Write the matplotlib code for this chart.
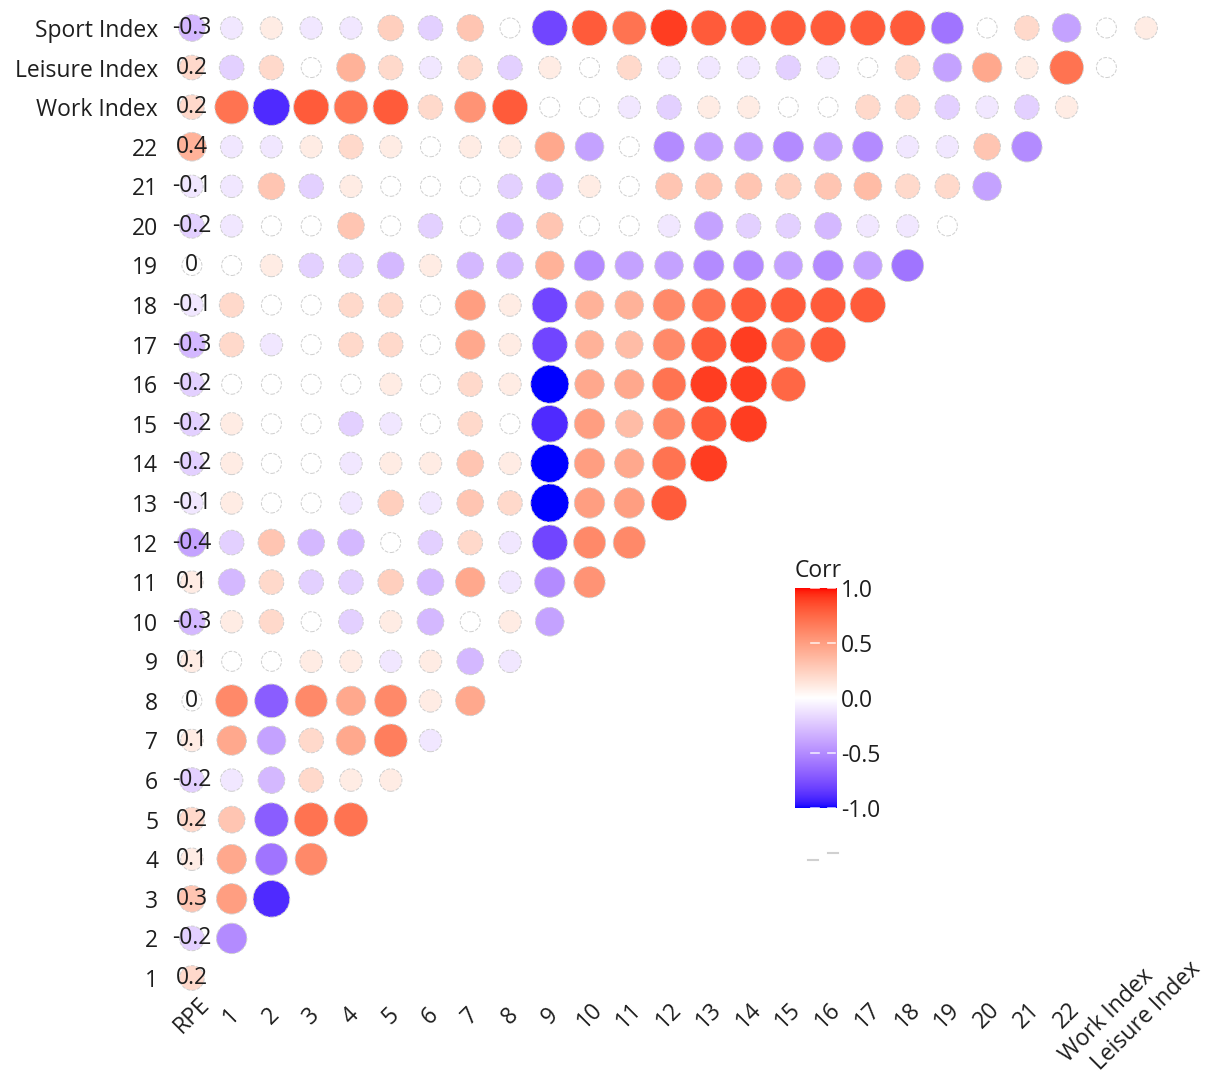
import numpy as np
import matplotlib
matplotlib.use("Agg")
import matplotlib.pyplot as plt
from matplotlib.colors import ListedColormap, Normalize
from matplotlib.cm import ScalarMappable
from matplotlib.lines import Line2D

plt.rcParams['font.family'] = ['Open Sans', 'DejaVu Sans']
FS = 16.5
INK = '#1e1e1e'

items = [str(i) for i in range(1, 23)]
row_vars = items + ['Work Index', 'Leisure Index', 'Sport Index']
col_vars = ['RPE'] + items + ['Work Index', 'Leisure Index']

# correlation of each row variable with RPE (printed in the first column)
rpe_corr = [0.2, -0.2, 0.3, 0.1, 0.2, -0.2, 0.1, 0, 0.1, -0.3, 0.1, -0.4, -0.1,
            -0.2, -0.2, -0.2, -0.3, -0.1, 0, -0.2, -0.1, 0.4, 0.2, 0.2, -0.3]

# lower triangle: row k holds its correlations with items 1..k
item_corr = [
    [],
    [-0.5],
    [0.5, -0.9],
    [0.45, -0.6, 0.6],
    [0.3, -0.7, 0.7, 0.7],
    [-0.1, -0.3, 0.2, 0.1, 0.1],
    [0.45, -0.4, 0.2, 0.45, 0.65, -0.1],
    [0.6, -0.7, 0.6, 0.45, 0.6, 0.1, 0.45],
    [0, 0, 0.1, 0.1, -0.1, 0.1, -0.3, -0.1],
    [0.1, 0.2, 0, -0.2, 0.1, -0.3, 0, 0.1, -0.4],
    [-0.3, 0.2, -0.2, -0.2, 0.25, -0.3, 0.45, -0.1, -0.5, 0.55],
    [-0.2, 0.3, -0.3, -0.3, 0, -0.2, 0.2, -0.1, -0.8, 0.6, 0.6],
    [0.1, 0, 0, -0.1, 0.25, -0.1, 0.3, 0.2, -1.0, 0.5, 0.5, 0.8],
    [0.1, 0, 0, -0.1, 0.1, 0.1, 0.3, 0.1, -1.0, 0.5, 0.45, 0.7, 0.9],
    [0.1, 0, 0, -0.2, -0.1, 0, 0.2, 0, -0.9, 0.5, 0.35, 0.6, 0.8, 0.9],
    [0, 0, 0, 0, 0.1, 0, 0.2, 0.1, -1.0, 0.45, 0.45, 0.7, 0.9, 0.9, 0.75],
    [0.2, -0.1, 0, 0.2, 0.2, 0, 0.45, 0.1, -0.8, 0.4, 0.35, 0.6, 0.8, 0.9, 0.7, 0.8],
    [0.2, 0, 0, 0.2, 0.2, 0, 0.5, 0.1, -0.8, 0.4, 0.4, 0.6, 0.7, 0.8, 0.8, 0.8, 0.8],
    [0, 0.1, -0.2, -0.2, -0.3, 0.1, -0.3, -0.3, 0.4, -0.5, -0.4, -0.4, -0.5, -0.5,
     -0.4, -0.5, -0.4, -0.6],
    [-0.1, 0, 0, 0.3, 0, -0.2, 0, -0.3, 0.3, 0, 0, -0.1, -0.4, -0.2, -0.2, -0.3,
     -0.1, -0.1, 0],
    [-0.1, 0.3, -0.2, 0.1, 0, 0, 0, -0.2, -0.3, 0.1, 0, 0.3, 0.3, 0.3, 0.25, 0.3,
     0.35, 0.2, 0.2, -0.4],
    [-0.1, -0.1, 0.1, 0.2, 0.1, 0, 0.1, 0.1, 0.45, -0.4, 0, -0.5, -0.4, -0.4, -0.5,
     -0.4, -0.5, -0.1, -0.1, 0.3, -0.5],
    [0.7, -0.9, 0.8, 0.7, 0.8, 0.2, 0.55, 0.8, 0, 0, -0.1, -0.2, 0.1, 0.1, 0, 0,
     0.2, 0.2, -0.2, -0.1, -0.2, 0.1],
    [-0.2, 0.2, 0, 0.4, 0.2, -0.1, 0.2, -0.2, 0.1, 0, 0.2, -0.1, -0.1, -0.1, -0.2,
     -0.1, 0, 0.2, -0.4, 0.45, 0.1, 0.7, 0],
    [-0.1, 0.1, -0.1, -0.1, 0.25, -0.2, 0.3, 0, -0.8, 0.8, 0.7, 0.9, 0.8, 0.8, 0.8,
     0.8, 0.8, 0.8, -0.6, 0, 0.2, -0.4, 0, 0.1],
]

# blue-white-red ramp interpolated in CIE Lab
M = np.array([[0.4124, 0.3576, 0.1805],
              [0.2126, 0.7152, 0.0722],
              [0.0193, 0.1192, 0.9505]])
WHITE = M.sum(axis=1)


def to_lab(rgb):
    c = np.asarray(rgb, float)
    lin = np.where(c <= 0.04045, c / 12.92, ((c + 0.055) / 1.055) ** 2.4)
    xyz = lin @ M.T / WHITE
    f = np.where(xyz > (6 / 29) ** 3, np.cbrt(xyz), xyz / (3 * (6 / 29) ** 2) + 4 / 29)
    return np.stack([116 * f[..., 1] - 16,
                     500 * (f[..., 0] - f[..., 1]),
                     200 * (f[..., 1] - f[..., 2])], -1)


def from_lab(lab):
    fy = (lab[..., 0] + 16) / 116
    f = np.stack([fy + lab[..., 1] / 500, fy, fy - lab[..., 2] / 200], -1)
    xyz = np.where(f > 6 / 29, f ** 3, 3 * (6 / 29) ** 2 * (f - 4 / 29)) * WHITE
    lin = np.clip(xyz @ np.linalg.inv(M).T, 0, 1)
    c = np.where(lin <= 0.0031308, 12.92 * lin, 1.055 * lin ** (1 / 2.4) - 0.055)
    return np.clip(c, 0, 1)


lab_blue, lab_white, lab_red = to_lab([0, 0, 1]), to_lab([1, 1, 1]), to_lab([1, 0, 0])
t = np.linspace(-1, 1, 511)[:, None]
lab = np.where(t < 0, lab_white + (-t) * (lab_blue - lab_white),
               lab_white + t * (lab_red - lab_white))
cmap = ListedColormap(from_lab(lab))
norm = Normalize(-1, 1)

xs, ys, vals = [], [], []
for i in range(len(row_vars)):
    row = [rpe_corr[i]] + item_corr[i]
    for j, v in enumerate(row):
        xs.append(j)
        ys.append(i)
        vals.append(v)
vals = np.array(vals)
diam_px = np.sqrt(400 + 1044 * np.abs(vals))
sizes = (diam_px * 0.72) ** 2

fig = plt.figure(figsize=(12.14, 10.76), dpi=100)
ax = fig.add_axes([0.1417, 0.0727, 0.8188, 0.9197])
ax.scatter(xs, ys, c=vals, cmap=cmap, norm=norm, s=sizes,
           edgecolors='#cfcfcf', linewidths=0.7, linestyles='--', zorder=2)

for i, v in enumerate(rpe_corr):
    ax.text(0, i, f"{v:g}", ha='center', va='center', fontsize=FS,
            color=INK, zorder=3)

ax.set_xlim(-0.5, 24.5)
ax.set_ylim(-0.5, 24.5)
ax.set_xticks(range(len(col_vars)))
ax.set_xticklabels(col_vars, fontsize=FS, color=INK)
ax.set_yticks(range(len(row_vars)))
ax.set_yticklabels(row_vars, fontsize=FS, color=INK)
for lbl in ax.get_xticklabels():
    lbl.set_rotation(45)
    lbl.set_ha('center')
    lbl.set_va('center')
    lbl.set_rotation_mode('anchor')
ax.tick_params(axis='both', length=0)
ax.tick_params(axis='x', pad=13)
ax.tick_params(axis='y', pad=10)
for sp in ax.spines.values():
    sp.set_visible(False)

# colour legend
cax = fig.add_axes([0.6549, 0.2491, 0.0346, 0.2045])
cbar = fig.colorbar(ScalarMappable(norm=norm, cmap=cmap), cax=cax,
                    ticks=[-1, -0.5, 0, 0.5, 1])
cbar.ax.set_yticklabels(['-1.0', '-0.5', '0.0', '0.5', '1.0'], fontsize=FS,
                        color=INK)
cbar.outline.set_visible(False)
cbar.ax.tick_params(length=0, pad=3)
for y in [-1, -0.5, 0, 0.5, 1]:
    cax.plot([0.37, 0.56], [y, y], color='white', lw=1.2, alpha=0.8)
    cax.plot([0.78, 0.96], [y, y], color='white', lw=1.2, alpha=0.8)
cax.set_title('Corr', loc='left', fontsize=FS, color=INK, pad=8)

# leftover size-key marks under the legend
W, H = 1214, 1076
for x0, x1, y in [(808, 818, 860), (828, 838, 853)]:
    fig.add_artist(Line2D([x0 / W, x1 / W], [1 - y / H, 1 - y / H],
                          transform=fig.transFigure, color='#d0d0d0', lw=1.5))

fig.savefig('out.png', dpi=100)
